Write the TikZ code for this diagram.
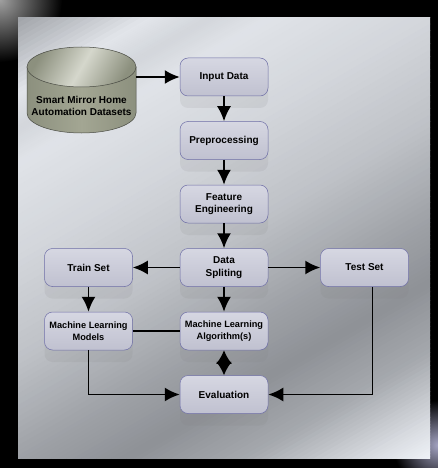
\documentclass[tikz,border=0pt]{standalone}
\usepackage{fontspec}
\setmainfont{Liberation Sans}
\usetikzlibrary{positioning, arrows.meta, shadows}

\definecolor{boxline}{HTML}{6E6EA6}
\definecolor{boxtop}{HTML}{D6D7E2}
\definecolor{boxbot}{HTML}{C0C1D0}
\definecolor{cylbody}{HTML}{A3A693}
\definecolor{cyldark}{HTML}{8C907E}
\definecolor{cyllight}{HTML}{D5D7CC}
\definecolor{cylline}{HTML}{4A4C44}
\definecolor{metbase}{rgb}{0.61,0.62,0.64}

\begin{document}
\begin{tikzpicture}[
x=1pt, y=-1pt,
node distance=25pt,
box/.style={
	rectangle,
	rounded corners=8pt,
	draw=boxline,
	line width=0.5pt,
	top color=boxtop,
	bottom color=boxbot,
	align=center,
	minimum width=88pt,
	minimum height=38pt,
	font=\fontsize{10}{12.5}\selectfont\bfseries,
	drop shadow={shadow xshift=0pt, shadow yshift=-12pt, opacity=0.12}
},
small/.style={
	font=\fontsize{9.2}{12.5}\selectfont\bfseries
},
db/.style={
	align=center,
	minimum width=109pt,
	font=\fontsize{10}{12.5}\selectfont\bfseries
},
arr/.style={
	line width=1.8pt,
	-{Latex[length=15pt,width=14pt]}
},
both/.style={
	line width=1.8pt,
	{Latex[length=13.5pt,width=16pt]}-{Latex[length=13.5pt,width=16pt]}
}
]

% Frame and brushed panel
\fill[black] (0,0) rectangle (438,468);
\useasboundingbox (0,0) rectangle (438,468);
\shade[inner color=gray!75, outer color=black] (0,0) circle (62pt);
\shade[inner color=blue!20!gray!60, outer color=black] (438,445) circle (45pt);
\begin{scope}
\clip (18,18) rectangle (430,458);
\fill[metbase] (18,18) rectangle (430,458);
\foreach \va/\ga/\vb/\gb in {20/0.62/90/0.90, 90/0.90/120/0.84, 120/0.84/150/0.89,
	150/0.89/230/0.84, 230/0.84/320/0.76, 320/0.76/400/0.64, 400/0.64/460/0.57,
	460/0.57/520/0.66, 520/0.66/580/0.86, 580/0.86/620/0.97}{
	\foreach \k in {0,...,15}{
		\pgfmathsetmacro{\vs}{\va+(\vb-\va)*\k/16}
		\pgfmathsetmacro{\ve}{\va+(\vb-\va)*(\k+1)/16+0.6}
		\pgfmathsetmacro{\gs}{\ga+(\gb-\ga)*(\k+0.5)/16}
		\pgfmathsetmacro{\rs}{\gs-0.012}
		\pgfmathsetmacro{\bs}{min(1,\gs+0.02)}
		\definecolor{stripe}{rgb}{\rs,\gs,\bs}
		\fill[stripe] ({\vs*0.5-220*0.866},{\vs*0.866+220*0.5}) -- ({\vs*0.5+370*0.866},{\vs*0.866-370*0.5})
			-- ({\ve*0.5+370*0.866},{\ve*0.866-370*0.5}) -- ({\ve*0.5-220*0.866},{\ve*0.866+220*0.5}) -- cycle;
	}
}
\end{scope}

% Database
\shade[left color=cyldark, right color=cyldark, middle color=cylbody, draw=cylline, line width=0.5pt]
	(27,67) -- (27,113) arc[start angle=180, end angle=360, x radius=54.5pt, y radius=20pt] -- (136,67) -- cycle;
\shade[left color=cyldark, right color=cyldark, middle color=cyllight, shading angle=60, draw=cylline, line width=0.5pt]
	(81.5,67) ellipse [x radius=54.5pt, y radius=20pt];
\node [db] (data) at (81.5,106) {Smart Mirror Home\\Automation Datasets};

% Steps
\node [box] (input) at (224,77) {Input Data};
\node [box, below=of input] (prep) {Preprocessing};
\node [box, below=of prep] (feat) {Feature\\Engineering};
\node [box, below=of feat] (split) {Data\\Spliting};
\node [box, left=47pt of split] (train) {Train Set};
\node [box, right=52pt of split] (test) {Test Set};
\node [box, small, below=of split] (algo) {Machine Learning\\Algorithm(s)};
\node [box, small, below=of train] (models) {Machine Learning\\Models};
\node [box, below=of algo] (eval) {Evaluation};

% Connectors
\draw [arr] (data.east |- input.west) -- (input.west);
\draw [arr] (input) -- (prep);
\draw [arr] (prep) -- (feat);
\draw [arr] (feat) -- (split);
\draw [arr] (split) -- (train);
\draw [arr] (split) -- (test);
\draw [arr] (split) -- (algo);
\draw [arr] (train) -- (models);
\draw [line width=1.8pt] (models) -- (algo);
\draw [both] (algo) -- (eval);
\draw [arr] (models.south) |- (eval.west);
\draw [arr] ([xshift=8pt]test.south) |- (eval.east);

\end{tikzpicture}
\end{document}
